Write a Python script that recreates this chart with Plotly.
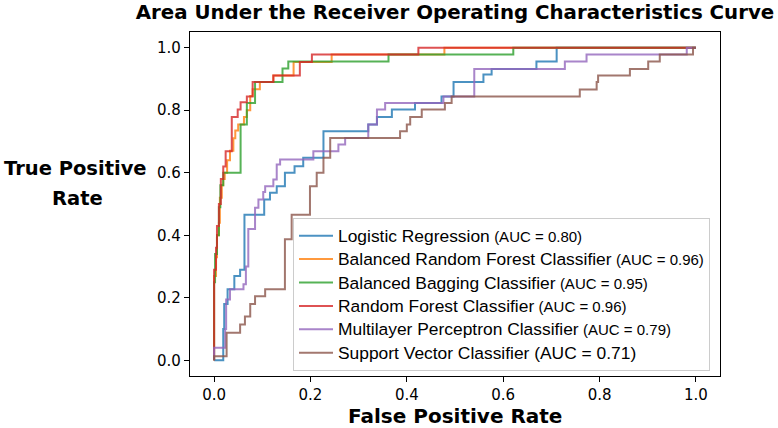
import plotly.graph_objects as go

# ---------------- data ----------------
models = ["Logistic Regression", "Balanced Random Forest Classifier",
          "Balanced Bagging Classifier", "Random Forest Classifier",
          "Multilayer Perceptron Classifier", "Support Vector Classifier"]
auc = [0.80, 0.96, 0.95, 0.96, 0.79, 0.71]
colors = ["#1f77b4", "#ff7f0e", "#2ca02c", "#d62728", "#9467bd", "#8c564b"]
small_auc_label = [True, True, True, True, True, False]

lr_fpr = [0, 0.019, 0.021, 0.028, 0.042, 0.054, 0.063, 0.104, 0.116, 0.130, 0.147, 0.167,
          0.185, 0.227, 0.320, 0.338, 0.369, 0.417, 0.472, 0.497, 0.559, 0.576, 0.669, 0.711, 1.0]
lr_tpr = [0, 0.10, 0.18, 0.227, 0.27, 0.29, 0.466, 0.514, 0.536, 0.557, 0.600, 0.621,
          0.648, 0.733, 0.754, 0.778, 0.802, 0.823, 0.844, 0.890, 0.914, 0.932, 0.956, 1.0, 1.0]

brf_fpr = [0, 0, 0.004, 0.006, 0.010, 0.012, 0.016, 0.019, 0.022, 0.027, 0.033, 0.040, 0.044,
           0.050, 0.062, 0.068, 0.075, 0.080, 0.095, 0.123, 0.165, 0.244, 0.478, 1.0]
brf_tpr = [0, 0.27, 0.33, 0.40, 0.44, 0.52, 0.56, 0.58, 0.60, 0.64, 0.67, 0.71, 0.735,
           0.754, 0.778, 0.80, 0.845, 0.867, 0.890, 0.911, 0.954, 0.978, 1.0, 1.0]

bbc_fpr = [0, 0, 0.002, 0.006, 0.010, 0.013, 0.019, 0.055, 0.068, 0.085, 0.142, 0.154, 0.362, 0.621, 1.0]
bbc_tpr = [0, 0.25, 0.34, 0.40, 0.49, 0.56, 0.60, 0.754, 0.823, 0.890, 0.933, 0.956, 0.978, 1.0, 1.0]

rf_fpr = [0, 0, 0.004, 0.006, 0.010, 0.014, 0.019, 0.024, 0.0367, 0.049, 0.055, 0.068, 0.080,
          0.123, 0.178, 0.203, 0.424, 1.0]
rf_tpr = [0, 0.29, 0.36, 0.43, 0.50, 0.58, 0.62, 0.669, 0.778, 0.802, 0.825, 0.844, 0.890,
          0.911, 0.954, 0.978, 1.0, 1.0]

mlp_fpr = [0, 0, 0.023, 0.025, 0.033, 0.061, 0.066, 0.071, 0.085, 0.092, 0.102, 0.106, 0.123,
           0.130, 0.137, 0.206, 0.258, 0.272, 0.320, 0.338, 0.355, 0.476, 0.540, 0.728, 0.773, 0.981, 1.0]
mlp_tpr = [0, 0.04, 0.10, 0.195, 0.227, 0.243, 0.30, 0.42, 0.488, 0.514, 0.538, 0.557, 0.578,
           0.626, 0.642, 0.669, 0.690, 0.711, 0.754, 0.802, 0.823, 0.844, 0.932, 0.956, 0.978, 1.0, 1.0]

svc_fpr = [0, 0, 0.026, 0.054, 0.064, 0.075, 0.085, 0.106, 0.147, 0.161, 0.199, 0.213, 0.227,
           0.241, 0.386, 0.400, 0.407, 0.431, 0.479, 0.493, 0.759, 0.794, 0.797, 0.863, 0.901,
           0.925, 0.994, 1.0]
svc_tpr = [0, 0.013, 0.088, 0.115, 0.140, 0.180, 0.205, 0.227, 0.387, 0.466, 0.557, 0.600, 0.648,
           0.711, 0.733, 0.754, 0.778, 0.802, 0.823, 0.844, 0.866, 0.890, 0.911, 0.932, 0.956,
           0.978, 1.0, 1.0]

fprs = [lr_fpr, brf_fpr, bbc_fpr, rf_fpr, mlp_fpr, svc_fpr]
tprs = [lr_tpr, brf_tpr, bbc_tpr, rf_tpr, mlp_tpr, svc_tpr]

tick_vals = [0.0, 0.2, 0.4, 0.6, 0.8, 1.0]
tick_text = ["0.0", "0.2", "0.4", "0.6", "0.8", "1.0"]

title_text = "Area Under the Receiver Operating Characteristics Curve"
x_title = "False Positive Rate"
y_title_lines = ["True Positive", "Rate"]

# ---------------- figure ----------------
W, H = 778, 428
ML, MR, MT, MB = 190, 58, 32, 52
PH = H - MT - MB
PW = W - ML - MR

BOLD_FONT = "DejaVu Sans"
LEG_FONT = "Liberation Sans, Arial"

fig = go.Figure()
for name, a, c, small, fx, ty in zip(models, auc, colors, small_auc_label, fprs, tprs):
    if small:
        label = (f"<span style='font-size:17.4px'>{name}</span> "
                 f"<span style='font-size:15px'>(AUC = {a:.2f})</span>")
    else:
        label = f"<span style='font-size:17.4px'>{name} (AUC = {a:.2f})</span>"
    fig.add_trace(go.Scatter(
        x=fx, y=ty, mode="lines", name=label,
        line=dict(color=c, width=2, shape="hv"), opacity=0.8,
    ))

axis_common = dict(
    range=[-0.05, 1.05], tickvals=tick_vals, ticktext=tick_text,
    showgrid=False, zeroline=False, showline=True, mirror=True,
    linecolor="black", linewidth=1.2, ticks="outside", ticklen=5,
    tickwidth=1, tickcolor="black",
    tickfont=dict(family="DejaVu Sans", size=15, color="black"),
)
fig.update_xaxes(**axis_common)
fig.update_yaxes(**axis_common)

fig.update_layout(
    width=W, height=H,
    margin=dict(l=ML, r=MR, t=MT, b=MB, pad=0),
    paper_bgcolor="white", plot_bgcolor="white",
    title=dict(text=f"<b>{title_text}</b>", x=(ML + PW / 2) / W, xanchor="center",
               y=1 - 12 / H, yanchor="middle", yref="container",
               font=dict(family=BOLD_FONT, size=19.8, color="black")),
    legend=dict(
        x=(710 - ML) / PW, xanchor="right", y=(MT + PH - 371) / PH, yanchor="bottom",
        bgcolor="rgba(255,255,255,0.8)", bordercolor="#cccccc", borderwidth=1,
        font=dict(family=LEG_FONT, size=15.7, color="black"),
        itemwidth=34,
    ),
    showlegend=True,
)


def py(pix):
    return (MT + PH - pix) / PH


fig.add_annotation(text=f"<b>{x_title}</b>", xref="paper", yref="paper",
                   x=0.5, y=py(415.5), xanchor="center", yanchor="middle", showarrow=False,
                   font=dict(family=BOLD_FONT, size=20, color="black"))
for line, ypix, xpix in zip(y_title_lines, [168, 198], [75, 77]):
    fig.add_annotation(text=f"<b>{line}</b>", xref="paper", yref="paper",
                       x=(xpix - ML) / PW, y=py(ypix), xanchor="center", yanchor="middle",
                       showarrow=False,
                       font=dict(family=BOLD_FONT, size=19.5, color="black"))

fig.write_html("out.html", config={"displayModeBar": False},
               post_script="document.body.style.margin='0px';")
